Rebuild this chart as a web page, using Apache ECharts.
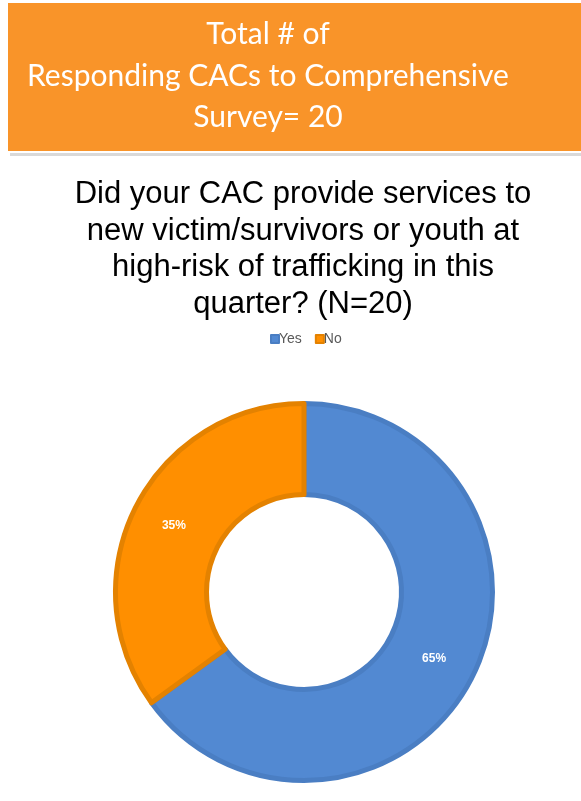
<!DOCTYPE html>
<html>
<head>
<meta charset="utf-8">
<title>CAC services donut</title>
<script src="https://cdn.jsdelivr.net/npm/echarts@6/dist/echarts.min.js"></script>
<style>
  html, body { margin: 0; padding: 0; background: #ffffff; }
  #chart { width: 581px; height: 801px; }
</style>
</head>
<body>
<div id="chart"></div>
<script>
// Survey answers and their shares (percent of N=20)
const categories = ['Yes', 'No'];
const percentValues = [65, 35];
const sliceColors = ['#5289D2', '#FF8F00'];
const sliceBorders = ['#4A7EC3', '#E48200'];

const bannerLines = ['Total # of', 'Responding CACs to Comprehensive', 'Survey= 20'];
const questionLines = [
  'Did your CAC provide services to',
  'new victim/survivors or youth at',
  'high-risk of trafficking in this',
  'quarter? (N=20)'
];

const chart = echarts.init(document.getElementById('chart'), null, { renderer: 'canvas' });

const pieData = categories.map((name, i) => ({
  name: name,
  value: percentValues[i],
  itemStyle: { color: sliceColors[i], borderColor: sliceBorders[i], borderWidth: 5 }
}));

chart.setOption({
  animation: false,
  backgroundColor: '#ffffff',
  graphic: [
    // orange header banner and its grey drop line
    { type: 'rect', shape: { x: 10, y: 153, width: 571, height: 3 }, style: { fill: '#D9D9D9' }, z: 0 },
    { type: 'rect', shape: { x: 8, y: 3, width: 573, height: 148 }, style: { fill: '#F99429' }, z: 1 }
  ],
  title: [
    {
      text: bannerLines.join('\n'),
      left: 263,
      top: 9,
      textAlign: 'center',
      textStyle: {
        color: '#ffffff',
        fontFamily: 'Lato',
        fontWeight: 'normal',
        fontSize: 30,
        lineHeight: 41.5
      },
      z: 5
    },
    {
      text: questionLines.join('\n'),
      left: 298,
      top: 171,
      textAlign: 'center',
      textStyle: {
        color: '#000000',
        fontFamily: 'Liberation Sans',
        fontWeight: 'normal',
        fontSize: 31,
        lineHeight: 36.7
      }
    }
  ],
  legend: {
    data: categories,
    top: 327,
    left: 265,
    itemWidth: 8,
    itemHeight: 8,
    itemGap: 13,
    icon: 'rect',
    textStyle: { color: '#595959', fontSize: 14, fontFamily: 'Liberation Sans', padding: [0, 0, 0, -5] }
  },
  series: [
    {
      type: 'pie',
      center: [304, 592],
      radius: [97.5, 188.5],
      startAngle: 90,
      clockwise: true,
      data: pieData,
      legendHoverLink: false,
      label: {
        show: true,
        position: 'inside',
        formatter: '{c}%',
        color: '#ffffff',
        fontWeight: 'bold',
        fontSize: 12,
        fontFamily: 'Liberation Sans'
      },
      labelLine: { show: false },
      emphasis: { disabled: true }
    }
  ]
});
</script>
</body>
</html>
